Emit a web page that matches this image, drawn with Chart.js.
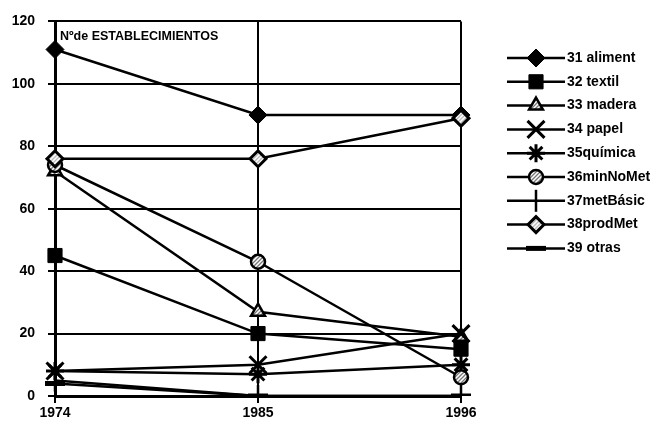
<!DOCTYPE html>
<html>
<head>
<meta charset="utf-8">
<script src="https://cdn.jsdelivr.net/npm/chart.js@4"></script>
<style>
  html, body { margin: 0; background: #fff; }
  #wrap { width: 657px; height: 425px; }
</style>
</head>
<body>
<div id="wrap"><canvas id="chart"></canvas></div>
<script>
// datos
const years = ['1974', '1985', '1996'];
const seriesNames = ['31 aliment', '32 textil', '33 madera', '34 papel', '35química',
  '36minNoMet', '37metBásic', '38prodMet', '39 otras'];
const aliment = [111, 90, 90];
const textil = [45, 20, 15];
const madera = [72, 27, 19];
const papel = [8, 10, 20];
const quimica = [8, 7, 10];
const minNoMet = [74, 43, 6];
const metBasic = [5, 0, 0];
const prodMet = [76, 76, 89];
const otras = [4, 0, 0];
const yTicks = [0, 20, 40, 60, 80, 100, 120];
const chartTitle = 'Nºde ESTABLECIMIENTOS';

const values = [aliment, textil, madera, papel, quimica, minNoMet, metBasic, prodMet, otras];

const canvas = document.getElementById('chart');
const ctx = canvas.getContext('2d');

// rayado para los marcadores huecos
function hatch(bg, fg) {
  const c = document.createElement('canvas');
  c.width = c.height = 4;
  const g = c.getContext('2d');
  g.fillStyle = bg;
  g.fillRect(0, 0, 4, 4);
  g.strokeStyle = fg;
  g.lineWidth = 1.3;
  g.beginPath();
  g.moveTo(0, 4); g.lineTo(4, 0);
  g.moveTo(-1, 1); g.lineTo(1, -1);
  g.moveTo(3, 5); g.lineTo(5, 3);
  g.stroke();
  return ctx.createPattern(c, 'repeat');
}
const grey = hatch('#fff', '#777');
const light = hatch('#fff', '#bbb');

const markers = [
  { style: 'rectRot', r: 9, fill: '#000', bw: 1 },
  { style: 'rect', r: 10, fill: '#000', bw: 1 },
  { style: 'triangle', r: 8, fill: grey, bw: 2.5 },
  { style: 'crossRot', r: 12, fill: '#000', bw: 3 },
  { style: 'star', r: 9, fill: '#000', bw: 3 },
  { style: 'circle', r: 7, fill: grey, bw: 2.5 },
  { style: 'line', r: 11, fill: '#000', bw: 2.5, rot: 90 },
  { style: 'rectRot', r: 8, fill: light, bw: 3 },
  { style: 'line', r: 10, fill: '#000', bw: 5 }
];

const datasets = values.map((v, i) => ({
  label: seriesNames[i],
  data: v,
  borderColor: '#000',
  borderWidth: 2.5,
  tension: 0,
  fill: false,
  pointStyle: markers[i].style,
  pointRadius: markers[i].r,
  pointRotation: markers[i].rot || 0,
  pointBackgroundColor: markers[i].fill,
  pointBorderColor: '#000',
  pointBorderWidth: markers[i].bw,
  order: values.length - i
}));

const tickFont = { family: 'Liberation Sans', weight: 'bold', size: 14 };

// leyenda y título dibujados a mano
const extras = {
  id: 'extras',
  afterDraw(chart) {
    const c = chart.ctx;
    const area = chart.chartArea;
    c.save();
    c.fillStyle = '#000';
    c.font = 'bold 12.5px "Liberation Sans"';
    c.textBaseline = 'middle';
    c.fillText(chartTitle, area.left + 5, area.top + 15);

    chart.data.datasets.forEach((ds, i) => {
      const y = 58 + i * 23.8;
      c.strokeStyle = '#000';
      c.lineWidth = 2.5;
      c.beginPath();
      c.moveTo(507, y);
      c.lineTo(565, y);
      c.stroke();
      c.fillStyle = ds.pointBackgroundColor;
      c.lineWidth = ds.pointBorderWidth;
      Chart.helpers.drawPoint(c, {
        pointStyle: ds.pointStyle,
        radius: ds.pointRadius,
        rotation: ds.pointRotation,
        borderWidth: ds.pointBorderWidth
      }, 536, y);
      c.fillStyle = '#000';
      c.font = 'bold 14px "Liberation Sans"';
      c.textAlign = 'left';
      c.fillText(ds.label, 567, y);
    });
    c.restore();
  }
};

new Chart(ctx, {
  type: 'line',
  data: { labels: years, datasets },
  options: {
    responsive: true,
    maintainAspectRatio: false,
    animation: false,
    layout: { padding: { top: 16, right: 196, left: 0, bottom: 0 } },
    plugins: { legend: { display: false }, tooltip: { enabled: false } },
    scales: {
      x: {
        offset: false,
        grid: { color: '#000', lineWidth: 2, tickLength: 7, tickColor: '#000' },
        border: { color: '#000', width: 3 },
        ticks: { color: '#000', font: tickFont, padding: 2, maxRotation: 0 },
        afterFit: s => { s.height = 29; }
      },
      y: {
        min: yTicks[0],
        max: yTicks[yTicks.length - 1],
        afterBuildTicks: s => { s.ticks = yTicks.map(v => ({ value: v })); },
        grid: { color: '#000', lineWidth: 2, tickLength: 7, tickColor: '#000' },
        border: { color: '#000', width: 3 },
        ticks: { color: '#000', font: tickFont, padding: 13 },
        afterFit: s => { s.width = 55; }
      }
    }
  },
  plugins: [extras]
});
</script>
</body>
</html>
